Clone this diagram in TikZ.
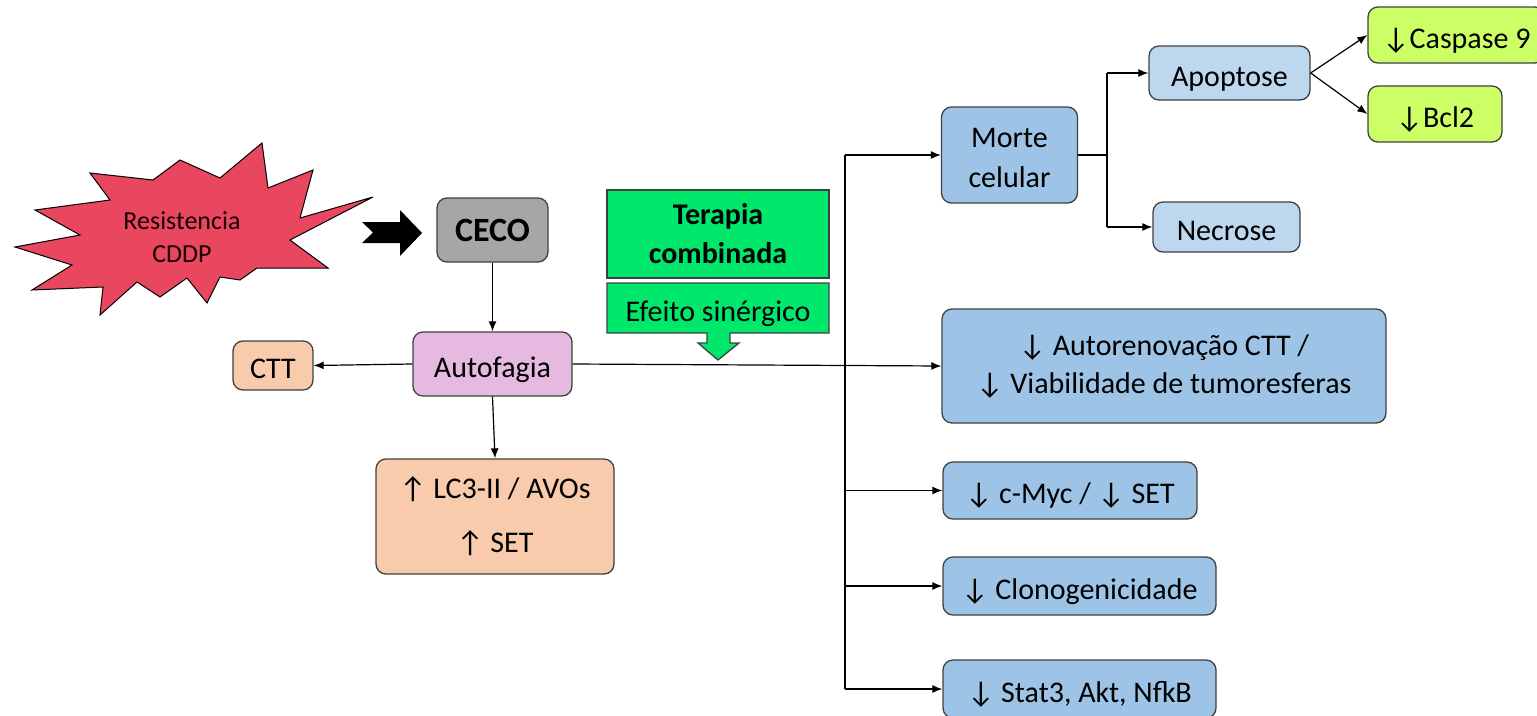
\documentclass[tikz,border=0pt]{standalone}
\usepackage{fontspec}
\setmainfont{Carlito}
\usetikzlibrary{arrows.meta}
\definecolor{bluebox}{HTML}{9DC3E6}
\definecolor{lightblue}{HTML}{BDD7EE}
\definecolor{limebox}{HTML}{CCFF66}
\definecolor{peach}{HTML}{F8CBAD}
\definecolor{lilac}{HTML}{E6B9E0}
\definecolor{cecogray}{HTML}{A6A6A6}
\definecolor{starred}{HTML}{E8475F}
\definecolor{tgreen}{HTML}{00E86C}
\definecolor{edge}{HTML}{404040}
\tikzset{
  bx/.style={draw=edge, line width=1.3pt, rounded corners=10pt, align=center, inner sep=0pt,
    font=\fontsize{30}{39}\selectfont},
  one/.style={text height=26pt, text depth=0pt},
  arr/.style={-{Latex[length=10pt,width=8pt]}, line width=1.2pt, black},
  ln/.style={line width=1.2pt, black}
}
\begin{document}
\begin{tikzpicture}[x=1pt,y=-1pt]
\useasboundingbox (0,0) rectangle (1537,715);
% starburst
\draw[fill=starred, draw=black, line width=1pt, line join=miter]
 (90,173) -- (110,200) -- (35,210) -- (80,235) -- (15,247) -- (72,265) -- (32,290)
 -- (103,287) -- (100,315) -- (137,282) -- (160,297) -- (187,278) -- (207,303)
 -- (220,277) -- (240,280) -- (257,268) -- (328,268) -- (290,240) -- (373,197)
 -- (300,218) -- (313,170) -- (268,188) -- (262,143) -- (220,178) -- (180,160)
 -- (153,180) -- cycle;
\node[align=center, font=\fontsize{26}{33}\selectfont, text=black!85!red!60!black] (res) at (182,237) {Resistencia\\CDDP};
% black block arrow
\fill[black] (362,222) -- (400,222) -- (400,210) -- (422,233) -- (400,256) -- (400,243)
  -- (362,243) -- (373,232.5) -- cycle;
% left nodes
\node[bx, fill=cecogray, minimum width=111pt, minimum height=64pt, font=\fontsize{34}{38}\selectfont\bfseries] (ceco) at (492.5,230) {CECO};
\node[bx, one, fill=lilac, minimum width=159pt, minimum height=64pt] (autof) at (492.5,364) {Autofagia};
\node[bx, one, fill=peach, minimum width=80pt, minimum height=49pt] (ctt) at (273,365.5) {CTT};
\node[bx, fill=peach, minimum width=238pt, minimum height=115pt, font=\fontsize{30}{54}\selectfont] (lc3) at (495,516.5) {↑ LC3-II / AVOs\\↑ SET};
% green
\node[draw=edge, line width=1.3pt, fill=tgreen, minimum width=222pt, minimum height=88pt, inner sep=0pt, align=center, font=\fontsize{30}{39}\selectfont\bfseries] (ter) at (718,234) {Terapia\\combinada};
\draw[draw=edge, line width=1.3pt, fill=tgreen, line join=miter]
 (607,283) -- (829,283) -- (829,333) -- (730,333) -- (730,343) -- (739,343) -- (718,360)
 -- (698,343) -- (707,343) -- (707,333) -- (607,333) -- cycle;
\node[font=\fontsize{30}{38}\selectfont, one, inner sep=0pt] (efe) at (718,308) {Efeito sinérgico};
% right nodes
\node[bx, fill=bluebox, minimum width=136pt, minimum height=96pt, font=\fontsize{30}{40}\selectfont] (morte) at (1009.5,155) {\rule{0pt}{26pt}Morte\\celular};
\node[bx, one, fill=lightblue, minimum width=161pt, minimum height=54pt] (apop) at (1229.5,73) {Apoptose};
\node[bx, one, fill=lightblue, minimum width=147pt, minimum height=50pt] (necr) at (1226.5,227) {Necrose};
\node[bx, one, fill=limebox, minimum width=177pt, minimum height=56pt] (casp) at (1456.5,35) {↓Caspase 9};
\node[bx, one, fill=limebox, minimum width=134pt, minimum height=56pt] (bcl) at (1435,114) {↓Bcl2};
\node[bx, fill=bluebox, minimum width=444pt, minimum height=114pt, font=\fontsize{30}{38}\selectfont] (autor) at (1164,366) {↓ Autorenovação CTT /\\↓ Viabilidade de tumoresferas};
\node[bx, one, fill=bluebox, minimum width=254pt, minimum height=57pt] (cmyc) at (1070,490.5) {↓ c-Myc / ↓ SET};
\node[bx, one, fill=bluebox, minimum width=273pt, minimum height=58pt] (clono) at (1079.5,586) {↓ Clonogenicidade};
\node[bx, one, fill=bluebox, minimum width=273pt, minimum height=58pt] (stat) at (1079.5,689) {↓ Stat3, Akt, NfkB};
% connectors
\draw[arr] (ceco.south) -- (autof.north);
\draw[arr] (autof.south) -- (lc3.north);
\draw[arr] (autof.west) -- (ctt.east);
\coordinate (bt) at (845,155);
\coordinate (bb) at (845,689);
\draw[ln] (bt) -- (bb);
\draw[arr] (autof.east) -- (autor.west);
\draw[arr] (bt) -- (morte.west);
\draw[arr] (bt |- cmyc.west) -- (cmyc.west);
\draw[arr] (bt |- clono.west) -- (clono.west);
\draw[arr] (bb) -- (stat.west);
\coordinate (sp) at (1107,155);
\draw[ln] (morte.east) -- (sp);
\draw[ln] (sp |- apop.west) -- (sp |- necr.west);
\draw[arr] (sp |- apop.west) -- (apop.west);
\draw[arr] (sp |- necr.west) -- (necr.west);
\draw[arr] (apop.east) -- (casp.west);
\draw[arr] (apop.east) -- (bcl.west);
\end{tikzpicture}
\end{document}
